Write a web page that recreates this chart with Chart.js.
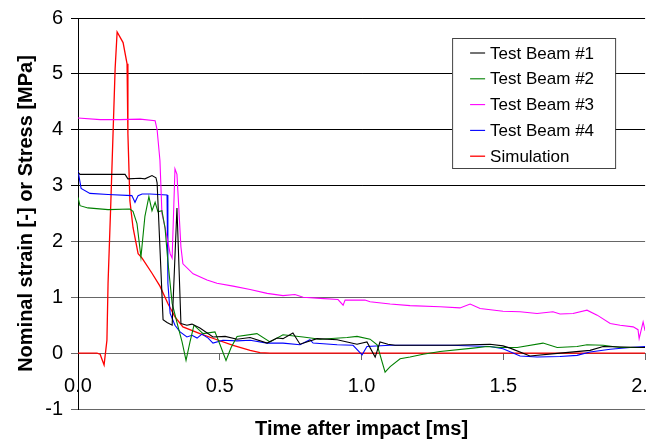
<!DOCTYPE html>
<html lang="en">
<head>
    <meta charset="UTF-8">
    <title>Nominal strain or stress after impact</title>
    <script src="https://cdn.jsdelivr.net/npm/chart.js"></script>
    <style>
        body {
            margin: 0;
            padding: 0;
            background: #fff;
            overflow: hidden;
        }

        .chart-box {
            width: 673px;
            height: 441px;
        }
    </style>
</head>
<body>
    <div class="chart-box">
        <canvas id="strainChart"></canvas>
    </div>

    <script>
        // Time after impact [ms] and value for each curve
        const beam1T = [0, 0.007, 0.166, 0.176, 0.219, 0.236, 0.261, 0.275, 0.279, 0.300, 0.314, 0.332, 0.349, 0.363, 0.384, 0.402, 0.430, 0.476, 0.519, 0.561, 0.607, 0.667, 0.702, 0.723, 0.758, 0.783, 0.843, 0.914, 0.949, 0.984, 1.019, 1.048, 1.065, 1.093, 1.118, 1.312, 1.453, 1.499, 1.524, 1.594, 1.700, 1.806, 1.852, 2.0];
        const beam1V = [3.24, 3.2, 3.2, 3.12, 3.13, 3.12, 3.18, 3.14, 3.05, 0.6, 0.55, 0.5, 2.6, 0.53, 0.5, 0.52, 0.45, 0.29, 0.3, 0.25, 0.28, 0.18, 0.27, 0.26, 0.36, 0.16, 0.26, 0.24, 0.2, 0.16, 0.2, -0.07, 0.2, 0.16, 0.14, 0.14, 0.16, 0.13, 0.09, -0.05, 0.0, 0.05, 0.12, 0.1];

        const beam2T = [0, 0.007, 0.035, 0.106, 0.183, 0.194, 0.208, 0.222, 0.236, 0.250, 0.261, 0.272, 0.282, 0.296, 0.307, 0.317, 0.332, 0.353, 0.367, 0.381, 0.395, 0.409, 0.441, 0.483, 0.501, 0.522, 0.540, 0.561, 0.631, 0.677, 0.723, 0.794, 0.854, 0.949, 0.984, 1.030, 1.055, 1.083, 1.101, 1.136, 1.171, 1.217, 1.277, 1.393, 1.443, 1.489, 1.549, 1.640, 1.690, 1.760, 1.795, 1.852, 1.912, 2.0];
        const beam2V = [2.79, 2.64, 2.6, 2.57, 2.58, 2.54, 2.32, 1.72, 2.45, 2.8, 2.55, 2.7, 2.53, 2.55, 2.24, 1.64, 0.89, 0.47, 0.2, -0.13, 0.2, 0.5, 0.35, 0.38, 0.15, -0.13, 0.1, 0.3, 0.35, 0.2, 0.33, 0.29, 0.25, 0.28, 0.3, 0.25, 0.15, -0.34, -0.24, -0.1, -0.07, -0.02, 0.03, 0.09, 0.12, 0.1, 0.1, 0.18, 0.1, 0.12, 0.15, 0.14, 0.1, 0.1];

        const beam3T = [0, 0.078, 0.148, 0.219, 0.272, 0.279, 0.289, 0.296, 0.307, 0.325, 0.332, 0.342, 0.349, 0.363, 0.370, 0.406, 0.455, 0.490, 0.547, 0.607, 0.667, 0.723, 0.765, 0.794, 0.854, 0.917, 0.935, 0.942, 1.012, 1.030, 1.101, 1.171, 1.277, 1.347, 1.383, 1.418, 1.499, 1.559, 1.619, 1.675, 1.700, 1.746, 1.795, 1.831, 1.877, 1.912, 1.958, 1.975, 1.979, 1.993, 2.0];
        const beam3V = [4.21, 4.18, 4.18, 4.19, 4.16, 4.0, 3.45, 2.5, 2.25, 1.78, 1.7, 3.3, 3.2, 1.9, 1.6, 1.42, 1.31, 1.25, 1.2, 1.14, 1.07, 1.03, 1.05, 1.0, 0.98, 0.96, 0.86, 0.95, 0.95, 0.92, 0.88, 0.85, 0.83, 0.81, 0.88, 0.8, 0.75, 0.74, 0.71, 0.74, 0.7, 0.71, 0.77, 0.68, 0.53, 0.5, 0.47, 0.42, 0.26, 0.56, 0.4];

        const beam4T = [0, 0.011, 0.042, 0.106, 0.190, 0.201, 0.212, 0.226, 0.254, 0.314, 0.317, 0.325, 0.342, 0.360, 0.384, 0.402, 0.420, 0.437, 0.459, 0.476, 0.511, 0.561, 0.607, 0.667, 0.723, 0.783, 0.818, 0.829, 0.914, 0.970, 1.002, 1.019, 1.101, 1.312, 1.453, 1.499, 1.559, 1.619, 1.700, 1.760, 1.806, 1.877, 1.947, 2.0];
        const beam4V = [3.27, 2.95, 2.86, 2.84, 2.82, 2.7, 2.82, 2.85, 2.85, 2.83, 1.25, 0.71, 0.5, 0.38, 0.29, 0.32, 0.27, 0.34, 0.27, 0.18, 0.23, 0.22, 0.23, 0.18, 0.18, 0.15, 0.24, 0.18, 0.15, 0.14, -0.03, 0.12, 0.14, 0.14, 0.12, 0.08, -0.05, -0.07, -0.06, -0.04, 0.02, 0.07, 0.1, 0.12];

        const simT = [0, 0.067, 0.078, 0.092, 0.102, 0.106, 0.116, 0.131, 0.138, 0.159, 0.173, 0.176, 0.183, 0.194, 0.212, 0.226, 0.261, 0.289, 0.317, 0.342, 0.370, 0.430, 0.490, 0.547, 0.607, 0.642, 0.677, 2.0];
        const simV = [0, 0, -0.02, -0.21, 0.23, 1.25, 2.73, 5.1, 5.75, 5.56, 5.18, 3.93, 2.73, 2.25, 1.78, 1.7, 1.43, 1.2, 0.89, 0.65, 0.47, 0.35, 0.24, 0.14, 0.05, 0.01, 0, 0];

        const seriesLabels = ['Test Beam #1', 'Test Beam #2', 'Test Beam #3', 'Test Beam #4', 'Simulation'];
        const xTicks = [0, 0.5, 1.0, 1.5, 2.0];
        const yTicks = [-1, 0, 1, 2, 3, 4, 5, 6];

        const toPoints = (t, v) => t.map((x, i) => ({ x: x, y: v[i] }));

        function makeSet(label, t, v, color, width) {
            return {
                label: label,
                data: toPoints(t, v),
                borderColor: color,
                backgroundColor: color,
                borderWidth: width,
                pointRadius: 0,
                tension: 0
            };
        }

        // legend drawn as a white box inside the plot, top right
        const boxLegend = {
            id: 'boxLegend',
            afterDraw(chart) {
                const ctx = chart.ctx;
                const area = chart.chartArea;
                const w = 163, h = 130;
                const left = area.right - 30 - w;
                const top = area.top + 20;
                ctx.save();
                ctx.fillStyle = '#fff';
                ctx.fillRect(left, top, w, h);
                ctx.strokeStyle = '#444';
                ctx.lineWidth = 1;
                ctx.strokeRect(left + 0.5, top + 0.5, w, h);
                ctx.font = "17px 'Liberation Sans', Arial, sans-serif";
                ctx.textBaseline = 'middle';
                ctx.textAlign = 'left';
                chart.data.datasets.forEach((ds, i) => {
                    const y = top + 15 + i * 25.8;
                    ctx.strokeStyle = ds.borderColor;
                    ctx.lineWidth = ds.borderWidth;
                    ctx.beginPath();
                    ctx.moveTo(left + 18, y);
                    ctx.lineTo(left + 33, y);
                    ctx.stroke();
                    ctx.fillStyle = '#000';
                    ctx.fillText(ds.label, left + 38, y + 1);
                });
                ctx.restore();
            }
        };

        Chart.defaults.font.family = "'Liberation Sans', Arial, sans-serif";
        Chart.defaults.color = '#000';

        const ctxStrain = document.getElementById('strainChart').getContext('2d');
        new Chart(ctxStrain, {
            type: 'line',
            data: {
                datasets: [
                    makeSet(seriesLabels[0], beam1T, beam1V, '#000000', 1.1),
                    makeSet(seriesLabels[1], beam2T, beam2V, '#008000', 1.1),
                    makeSet(seriesLabels[2], beam3T, beam3V, '#ff00ff', 1.1),
                    makeSet(seriesLabels[3], beam4T, beam4V, '#0000ff', 1.1),
                    makeSet(seriesLabels[4], simT, simV, '#ff0000', 1.3)
                ]
            },
            options: {
                responsive: true,
                maintainAspectRatio: false,
                animation: false,
                layout: {
                    padding: { top: 3, left: 0, right: 0, bottom: 0 }
                },
                scales: {
                    x: {
                        type: 'linear',
                        min: 0,
                        max: 2,
                        position: { y: 0 },
                        afterBuildTicks: s => { s.ticks = xTicks.map(v => ({ value: v })); },
                        ticks: {
                            autoSkip: false,
                            maxRotation: 0,
                            padding: 14,
                            font: { size: 20 },
                            callback: v => Number(v).toFixed(1)
                        },
                        grid: {
                            drawOnChartArea: false,
                            drawTicks: true,
                            tickLength: 7,
                            color: '#666'
                        },
                        border: { display: false }
                    },
                    y: {
                        min: -1,
                        max: 6,
                        afterBuildTicks: s => { s.ticks = yTicks.map(v => ({ value: v })); },
                        afterFit: s => { s.width = 78; },
                        ticks: {
                            padding: 8,
                            font: { size: 20, lineHeight: 1 }
                        },
                        grid: {
                            tickLength: 7,
                            color: c => (c.tick && c.tick.value >= 3 ? '#000' : '#666')
                        },
                        border: { color: '#000' },
                        title: {
                            display: true,
                            text: 'Nominal strain [-] or Stress [MPa]',
                            font: { size: 20, weight: 'bold' },
                            padding: { top: 14, bottom: 0 }
                        }
                    }
                },
                plugins: {
                    legend: { display: false },
                    tooltip: { enabled: false },
                    title: {
                        display: true,
                        text: 'Time after impact [ms]',
                        position: 'bottom',
                        fullSize: false,
                        font: { size: 20, weight: 'bold' },
                        color: '#000',
                        padding: { top: 8, bottom: 0 }
                    }
                }
            },
            plugins: [boxLegend]
        });
    </script>
</body>
</html>
